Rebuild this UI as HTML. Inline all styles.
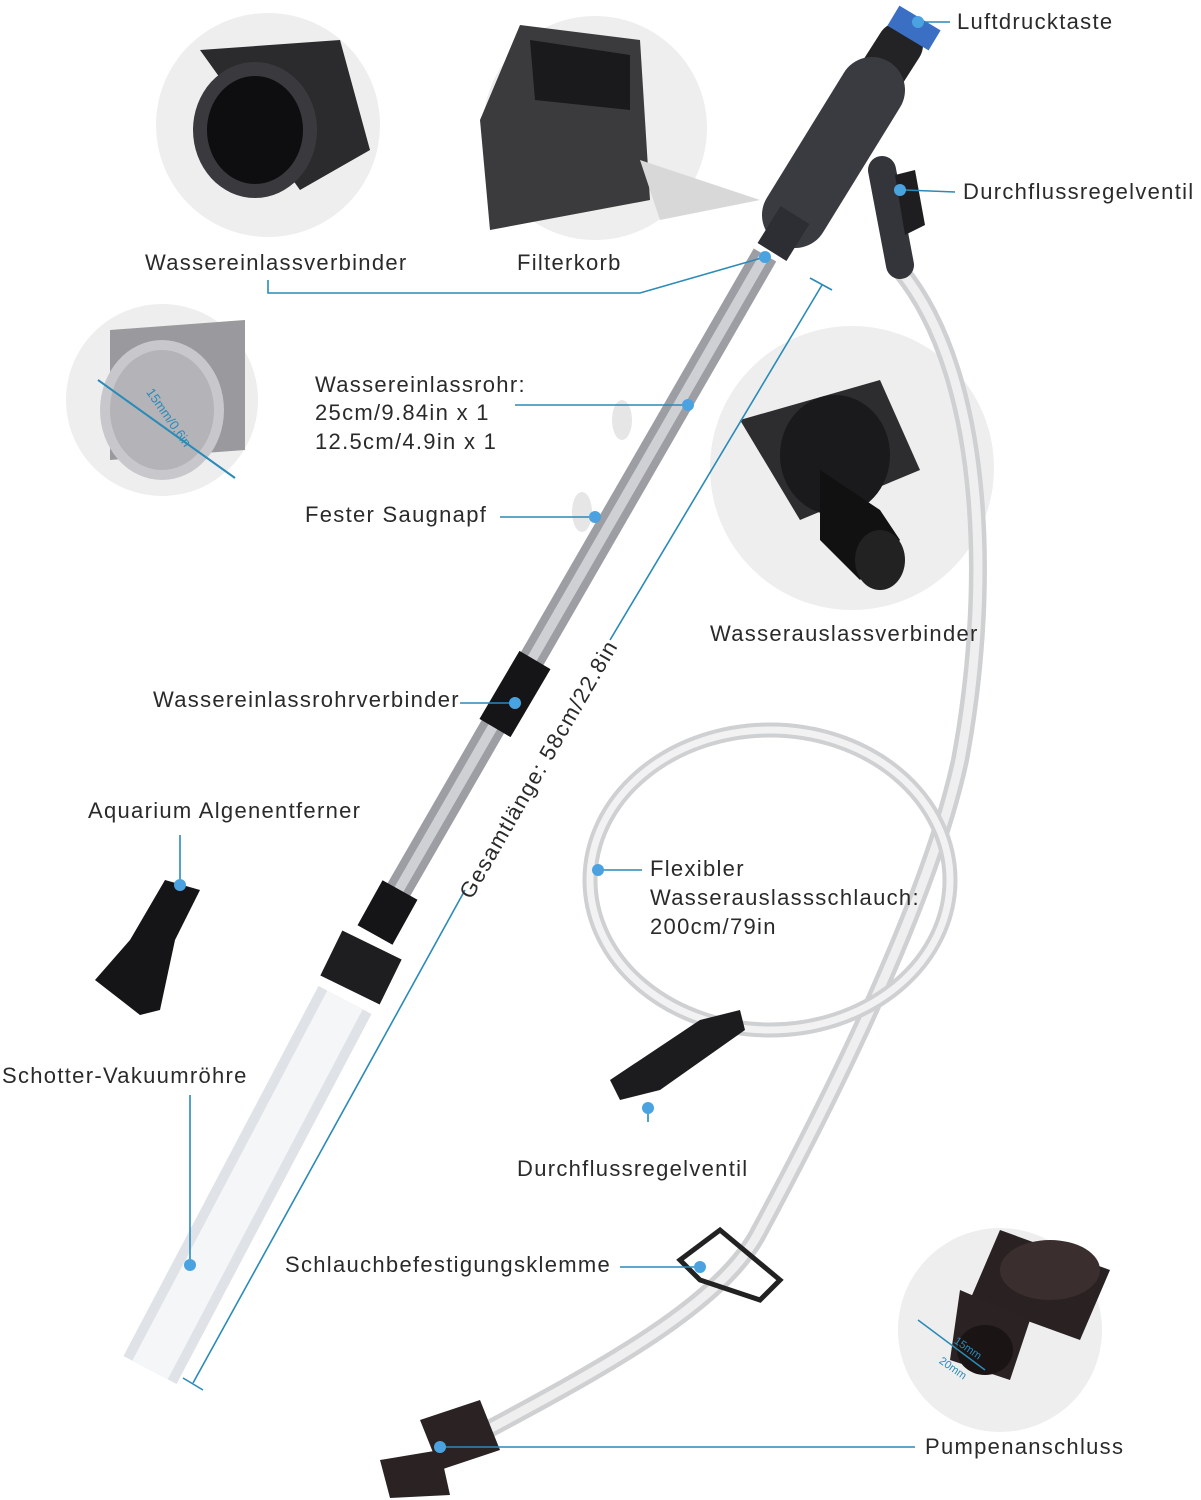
<!DOCTYPE html>
<html><head><meta charset="utf-8"><style>
html,body{margin:0;padding:0;background:#fff;}
svg{display:block;}
text{font-family:"Liberation Sans",sans-serif;font-size:22px;fill:#2a2a2a;dominant-baseline:middle;letter-spacing:1.3px;}
</style></head><body>
<svg width="1201" height="1500" viewBox="0 0 1201 1500">
<circle cx="268" cy="125" r="112" fill="#eeeeee"/>
<circle cx="595" cy="128" r="112" fill="#eeeeee"/>
<circle cx="162" cy="400" r="96" fill="#eeeeee"/>
<circle cx="852" cy="468" r="142" fill="#eeeeee"/>
<circle cx="1000" cy="1330" r="102" fill="#eeeeee"/>

<path d="M200 50 L340 40 L370 150 L300 190 Z" fill="#2b2b2e"/>
<ellipse cx="255" cy="130" rx="62" ry="68" fill="#3a3a3e"/>
<ellipse cx="255" cy="130" rx="48" ry="54" fill="#0e0e10"/>
<path d="M520 25 L640 40 L650 200 L490 230 L480 120 Z" fill="#3b3b3e"/>
<path d="M530 40 L630 55 L630 110 L535 100 Z" fill="#1a1a1c"/>
<path d="M640 160 L760 200 L660 220 Z" fill="#d8d8d8"/>
<path d="M110 330 L245 320 L245 450 L110 460 Z" fill="#9a9a9e"/>
<ellipse cx="162" cy="410" rx="62" ry="70" fill="#c8c8cc"/>
<ellipse cx="162" cy="410" rx="52" ry="60" fill="#b4b4b8"/>
<line x1="98" y1="380" x2="235" y2="478" stroke="#2a8ab8" stroke-width="2"/>
<text x="168" y="418" transform="rotate(55 168 418)" style="font-size:13px;fill:#2a8ab8;letter-spacing:0" text-anchor="middle">15mm/0.6in</text>
<path d="M740 420 L880 380 L920 470 L800 520 Z" fill="#2d2d30"/>
<ellipse cx="835" cy="455" rx="55" ry="60" fill="#1a1a1c"/>
<path d="M820 470 L880 510 L900 540 L860 580 L820 540 Z" fill="#111"/>
<ellipse cx="880" cy="560" rx="25" ry="30" fill="#222"/>

<path d="M1000 1230 L1110 1270 L1080 1340 L970 1300 Z" fill="#2a2222"/>
<ellipse cx="1050" cy="1270" rx="50" ry="30" fill="#3a2e2e"/>
<path d="M960 1290 L1030 1320 L1010 1380 L950 1360 Z" fill="#2b2323"/>
<ellipse cx="985" cy="1350" rx="28" ry="25" fill="#1a1414"/>
<line x1="918" y1="1320" x2="985" y2="1370" stroke="#2a8ab8" stroke-width="1.5"/>
<text x="955" y="1340" transform="rotate(35 955 1340)" style="font-size:11px;fill:#2a8ab8;letter-spacing:0">15mm</text>
<text x="940" y="1360" transform="rotate(35 940 1360)" style="font-size:11px;fill:#2a8ab8;letter-spacing:0">20mm</text>

<!-- hose -->
<path d="M900 270 C990 380 990 600 960 760 C930 900 830 1100 760 1230 C720 1310 580 1380 450 1450" fill="none" stroke="#cfd0d2" stroke-width="18"/>
<path d="M900 270 C990 380 990 600 960 760 C930 900 830 1100 760 1230 C720 1310 580 1380 450 1450" fill="none" stroke="#efeff0" stroke-width="9"/>
<ellipse cx="770" cy="880" rx="180" ry="150" fill="none" stroke="#cfd0d2" stroke-width="15"/>
<ellipse cx="770" cy="880" rx="180" ry="150" fill="none" stroke="#f2f2f3" stroke-width="7"/>

<path d="M610 1080 L700 1020 L740 1010 L745 1030 L660 1090 L620 1100 Z" fill="#1c1c1e"/>
<path d="M680 1260 L720 1230 L780 1280 L760 1300 L700 1280 Z" fill="none" stroke="#222" stroke-width="5"/>
<path d="M420 1420 L480 1400 L500 1450 L440 1470 Z" fill="#2b2323"/>
<path d="M380 1460 L440 1450 L450 1495 L390 1498 Z" fill="#2b2323"/>

<!-- handle -->
<line x1="882" y1="170" x2="900" y2="265" stroke="#34353a" stroke-width="28" stroke-linecap="round"/>
<path d="M895 175 L915 170 L925 225 L905 235 Z" fill="#1e1e20"/>
<line x1="900" y1="45" x2="870" y2="92" stroke="#232326" stroke-width="46" stroke-linecap="round"/>
<line x1="872" y1="90" x2="795" y2="215" stroke="#3a3b40" stroke-width="66" stroke-linecap="round"/>
<line x1="795" y1="215" x2="772" y2="252" stroke="#2d2e33" stroke-width="34"/>
<line x1="920" y1="18" x2="908" y2="38" stroke="#3a6fc4" stroke-width="48"/>
<line x1="765" y1="255" x2="390" y2="905" stroke="#9d9ea3" stroke-width="26"/>
<line x1="765" y1="255" x2="390" y2="905" stroke="#cfd0d4" stroke-width="10"/>
<line x1="535" y1="660" x2="495" y2="728" stroke="#151517" stroke-width="36"/>
<line x1="400" y1="890" x2="375" y2="935" stroke="#151517" stroke-width="40"/>
<line x1="372" y1="945" x2="350" y2="990" stroke="#1e1e20" stroke-width="66"/>
<line x1="345" y1="1000" x2="150" y2="1370" stroke="#dfe2e6" stroke-width="60"/>
<line x1="345" y1="1000" x2="150" y2="1370" stroke="#f4f6f8" stroke-width="40"/>
<ellipse cx="622" cy="420" rx="10" ry="20" fill="#e6e6e6"/>
<ellipse cx="582" cy="512" rx="10" ry="20" fill="#e6e6e6"/>
<path d="M165 880 L200 890 L175 940 L160 1010 L140 1015 L95 980 L130 940 Z" fill="#151517"/>

<g stroke="#2a8ab8" stroke-width="1.6" fill="none">
<line x1="822" y1="285" x2="610" y2="640"/>
<line x1="465" y1="890" x2="193" y2="1383"/>
<line x1="810" y1="278" x2="832" y2="290"/>
<line x1="183" y1="1378" x2="203" y2="1390"/>
</g>
<text x="540" y="770" transform="rotate(-60 540 770)" text-anchor="middle">Gesamtlänge: 58cm/22.8in</text>

<g stroke="#2a8ab8" stroke-width="1.6" fill="none">
<line x1="925" y1="22" x2="950" y2="22"/>
<line x1="905" y1="190" x2="955" y2="192"/>
<polyline points="268,280 268,293 640,293 765,257"/>
<line x1="515" y1="405" x2="688" y2="405"/>
<line x1="500" y1="517" x2="595" y2="517"/>
<line x1="460" y1="703" x2="515" y2="703"/>
<line x1="180" y1="835" x2="180" y2="885"/>
<line x1="598" y1="870" x2="642" y2="870"/>
<line x1="190" y1="1095" x2="190" y2="1265"/>
<line x1="648" y1="1108" x2="648" y2="1122"/>
<line x1="620" y1="1267" x2="700" y2="1267"/>
<line x1="440" y1="1447" x2="915" y2="1447"/>
</g>
<g fill="#4aa3e0">
<circle cx="918" cy="22" r="6"/><circle cx="900" cy="190" r="6"/><circle cx="765" cy="257" r="6"/>
<circle cx="688" cy="405" r="6"/><circle cx="595" cy="517" r="6"/><circle cx="515" cy="703" r="6"/>
<circle cx="180" cy="885" r="6"/><circle cx="598" cy="870" r="6"/><circle cx="190" cy="1265" r="6"/>
<circle cx="648" cy="1108" r="6"/><circle cx="700" cy="1267" r="6"/><circle cx="440" cy="1447" r="6"/>
</g>

<text x="957" y="23">Luftdrucktaste</text>
<text x="963" y="193">Durchflussregelventil</text>
<text x="145" y="264">Wassereinlassverbinder</text>
<text x="517" y="264">Filterkorb</text>
<text x="315" y="386">Wassereinlassrohr:</text>
<text x="315" y="414">25cm/9.84in x 1</text>
<text x="315" y="443">12.5cm/4.9in x 1</text>
<text x="305" y="516">Fester Saugnapf</text>
<text x="710" y="635">Wasserauslassverbinder</text>
<text x="153" y="701">Wassereinlassrohrverbinder</text>
<text x="88" y="812">Aquarium Algenentferner</text>
<text x="650" y="870">Flexibler</text>
<text x="650" y="899">Wasserauslassschlauch:</text>
<text x="650" y="928">200cm/79in</text>
<text x="2" y="1077">Schotter-Vakuumröhre</text>
<text x="517" y="1170">Durchflussregelventil</text>
<text x="285" y="1266">Schlauchbefestigungsklemme</text>
<text x="925" y="1448">Pumpenanschluss</text>
</svg>
</body></html>
